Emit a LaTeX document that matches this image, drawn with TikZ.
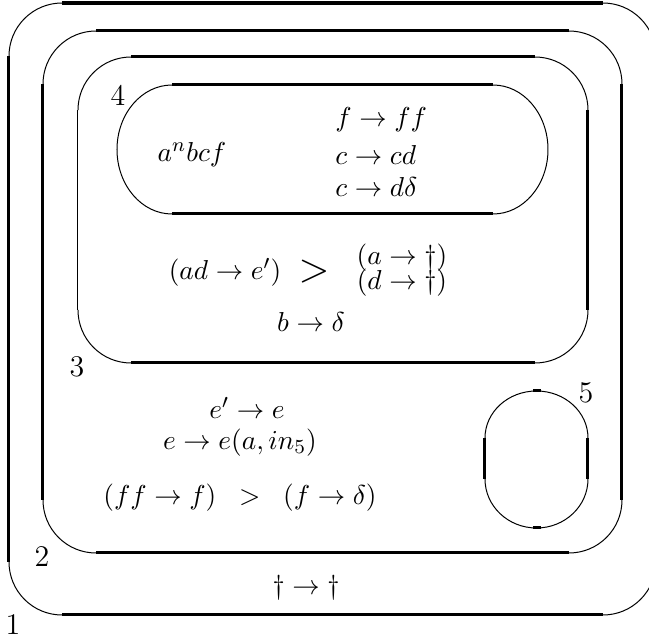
\documentclass[tikz,border=0pt]{standalone}
\begin{document}
\begin{tikzpicture}[x=0.4pt,y=-0.4pt,
  thickline/.style={line width=1.2pt},
  thinline/.style={line width=0.4pt},
  lbl/.style={inner sep=0pt,font=\fontsize{11}{13}\selectfont},
  num/.style={inner sep=0pt,font=\fontsize{12}{14}\selectfont}]
\useasboundingbox (0,0) rectangle (649,640);
\clip (0,0) rectangle (649,640);
% Box 1
\draw[thickline] (62,3) -- (603,3);
\draw[thickline] (656,56) -- (656,562);
\draw[thickline] (603,615) -- (62,615);
\draw[thickline] (9,562) -- (9,56);
\draw[thinline] (9,56) arc[start angle=180,end angle=270,radius=53];
\draw[thinline] (603,3) arc[start angle=270,end angle=360,radius=53];
\draw[thinline] (656,562) arc[start angle=0,end angle=90,radius=53];
\draw[thinline] (62,615) arc[start angle=90,end angle=180,radius=53];
% Box 2
\draw[thickline] (96,31) -- (569,31);
\draw[thickline] (622,84) -- (622,500);
\draw[thickline] (569,553) -- (96,553);
\draw[thickline] (43,500) -- (43,84);
\draw[thinline] (43,84) arc[start angle=180,end angle=270,radius=53];
\draw[thinline] (569,31) arc[start angle=270,end angle=360,radius=53];
\draw[thinline] (622,500) arc[start angle=0,end angle=90,radius=53];
\draw[thinline] (96,553) arc[start angle=90,end angle=180,radius=53];
% Box 3
\draw[thickline] (131,57) -- (535,57);
\draw[thickline] (588,110) -- (588,310);
\draw[thickline] (535,363) -- (131,363);
\draw[thinline] (78,310) -- (78,110);
\draw[thinline] (78,110) arc[start angle=180,end angle=270,radius=53];
\draw[thinline] (535,57) arc[start angle=270,end angle=360,radius=53];
\draw[thinline] (588,310) arc[start angle=0,end angle=90,radius=53];
\draw[thinline] (131,363) arc[start angle=90,end angle=180,radius=53];
% Box 4
\draw[thickline] (172,85) -- (493,85);
\draw[thickline] (493,214) -- (172,214);
\draw[thinline] (172,85) arc[start angle=270,end angle=90,x radius=55,y radius=64.5];
\draw[thinline] (493,85) arc[start angle=-90,end angle=90,x radius=55,y radius=64.5];
% Box 5
\draw[thickline] (485,438) -- (485,479);
\draw[thickline] (588,438) -- (588,479);
\draw[thickline] (533,391) -- (541,391);
\draw[thickline] (533,528) -- (541,528);
\draw[thinline] (485,438) arc[start angle=180,end angle=360,x radius=51.5,y radius=47];
\draw[thinline] (588,479) arc[start angle=0,end angle=180,x radius=51.5,y radius=49];
% Region numbers
\node[num] (n1) at (13,625) {1};
\node[num] (n2) at (42,557) {2};
\node[num] (n3) at (77,367) {3};
\node[num] (n4) at (118,95) {4};
\node[num] (n5) at (586,393) {5};
% Texts
\node[lbl] (t1) at (192,155) {$a^nbcf$};
\node[lbl,anchor=west] (t2) at (335,120) {$f\to ff$};
\node[lbl,anchor=west] (t3) at (335,155) {$c\to cd$};
\node[lbl,anchor=west] (t4) at (335,187) {$c\to d\delta$};
\node[lbl] (t5) at (225,272) {$(ad\to e')$};
\node[lbl,scale=1.45] (t6) at (314,272) {$>$};
\node[lbl] (t7) at (402,258) {$(a\to\dagger)$};
\node[lbl] (t8) at (402,283) {$(d\to\dagger)$};
\node[lbl] (t9) at (311,322) {$b\to\delta$};
\node[lbl] (t10) at (247,408) {$e'\to e$};
\node[lbl] (t11) at (240,443) {$e\to e(a,in_5)$};
\node[lbl] (t12) at (240,498) {$(ff\to f)\;\;>\;\;(f\to\delta)$};
\node[lbl] (t13) at (306,588) {$\dagger\to\dagger$};
\end{tikzpicture}
\end{document}
